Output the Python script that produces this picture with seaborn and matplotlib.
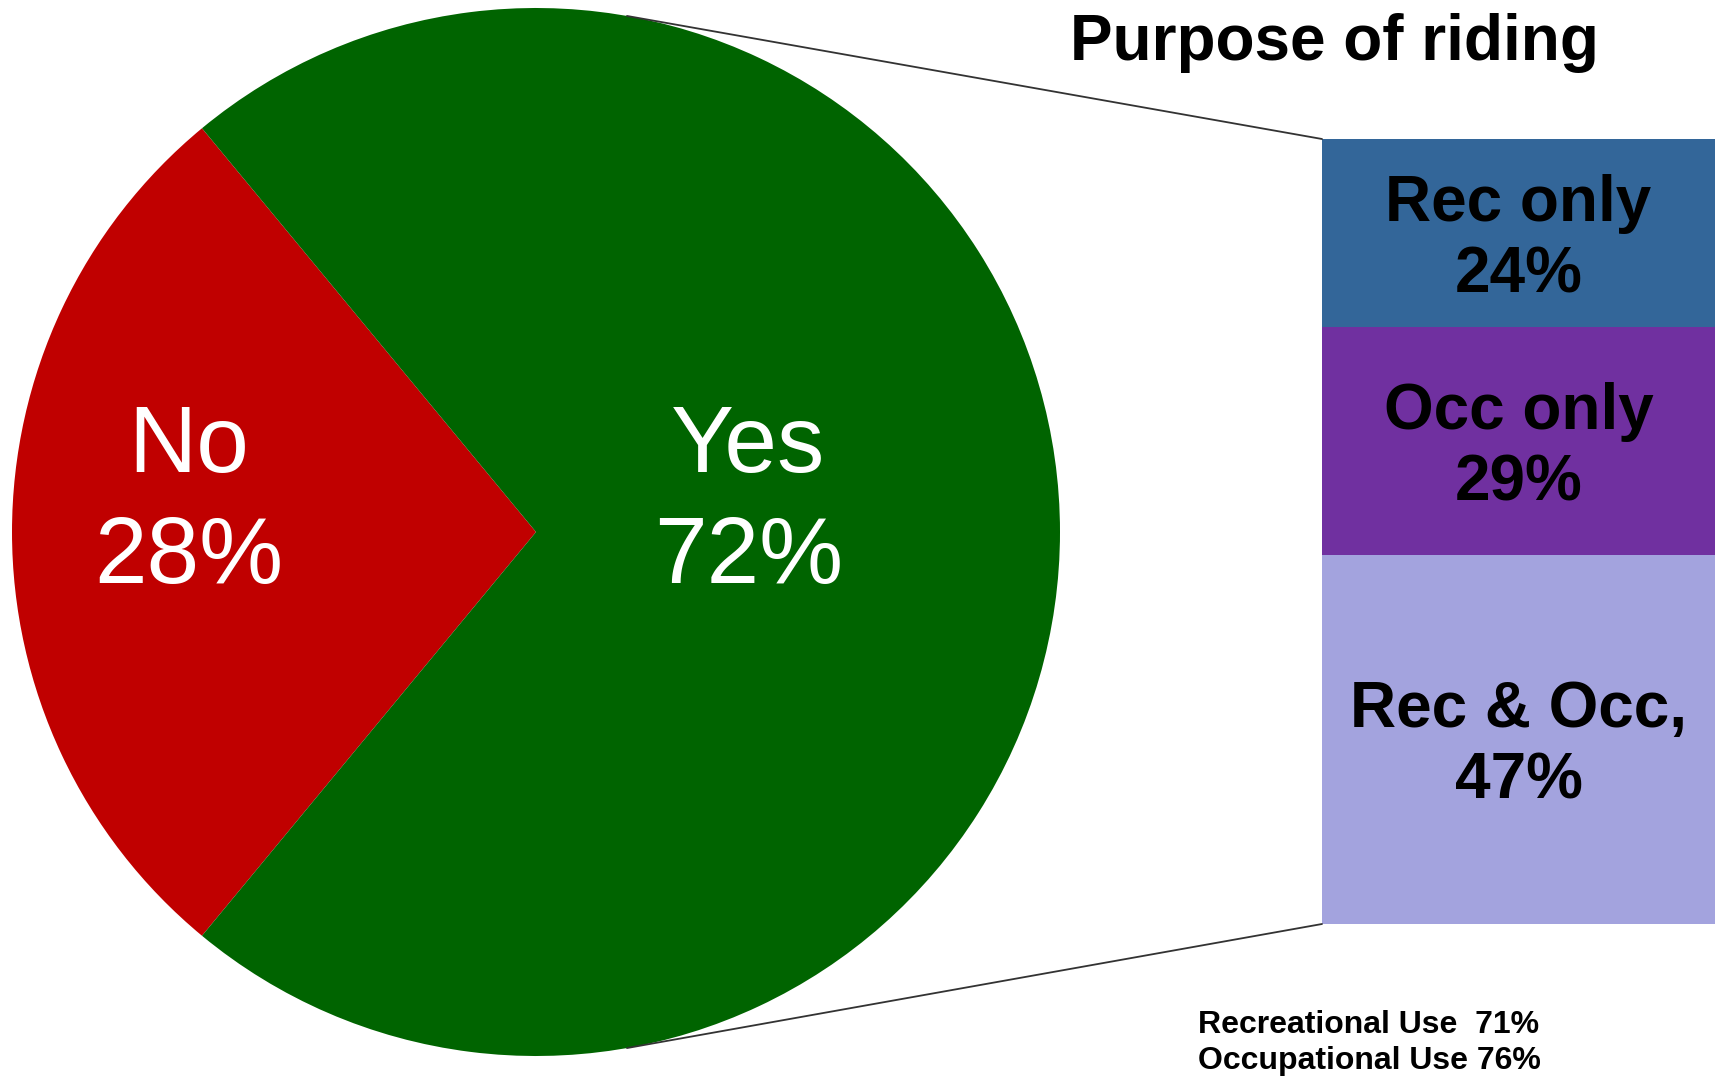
import matplotlib
matplotlib.use("Agg")
import matplotlib.pyplot as plt
from matplotlib.patches import ConnectionPatch
import numpy as np
import seaborn as sns

sns.set_theme(style="white")
plt.rcParams["font.family"] = ["Liberation Sans", "DejaVu Sans"]

# Share of riders (pie)
ride_labels = ["No", "Yes"]
ride_shares = [28, 72]
ride_colors = ["#C00000", "#006400"]

# Purpose of riding among "Yes" (stacked bar, bottom to top)
purpose_labels = ["Rec & Occ,", "Occ only", "Rec only"]
purpose_shares = [47, 29, 24]
purpose_colors = ["#A3A3DE", "#7030A0", "#336699"]

summary_lines = ["Recreational Use  71%", "Occupational Use 76%"]

W, H = 1719, 1077
fig = plt.figure(figsize=(W / 100, H / 100), dpi=100)
fig.patch.set_facecolor("white")


def box(x0, y0, x1, y1):
    """Axes rectangle from pixel edges measured from the top-left corner."""
    return [x0 / W, 1 - y1 / H, (x1 - x0) / W, (y1 - y0) / H]


# ---- pie ----
ax_pie = fig.add_axes(box(12, 8, 1060, 1056))
start = 180 - ride_shares[0] * 3.6 / 2
ax_pie.pie(ride_shares, colors=ride_colors, startangle=start,
           counterclock=True, wedgeprops=dict(linewidth=0))
ax_pie.set_xlim(-1, 1)
ax_pie.set_ylim(-1, 1)
ax_pie.set_aspect("equal")
ax_pie.axis("off")

pie_label_pos = {"No": (-0.662, 0.055), "Yes": (0.405, 0.055)}
for lab, share in zip(ride_labels, ride_shares):
    x, y = pie_label_pos[lab]
    ax_pie.text(x, y, f"{lab}\n{share}%", ha="center", va="center",
                color="white", fontsize=68, linespacing=1.32)

# ---- stacked bar (cumulative bars drawn tallest first) ----
ax_bar = fig.add_axes(box(1322, 139, 1715, 924))
cum = np.cumsum(purpose_shares)
for i in reversed(range(len(purpose_shares))):
    sns.barplot(x=["Purpose"], y=[cum[i]], color=purpose_colors[i],
                width=1, saturation=1, linewidth=0, ax=ax_bar)
for lab, share, top in zip(purpose_labels, purpose_shares, cum):
    ax_bar.text(0, top - share / 2 - 0.8, f"{lab}\n{share}%", ha="center",
                va="center", fontsize=46, fontweight="bold", color="black",
                linespacing=1.25)
ax_bar.set_xlim(-0.5, 0.5)
ax_bar.set_ylim(0, 100)
ax_bar.axis("off")

# ---- connector lines from pie to bar ----
theta = np.deg2rad(80)
for sign, ybar in ((1, 100), (-1, 0)):
    con = ConnectionPatch(xyA=(np.cos(theta), sign * np.sin(theta)),
                          coordsA=ax_pie.transData,
                          xyB=(-0.5, ybar), coordsB=ax_bar.transData,
                          color="#333333", lw=1.3)
    fig.add_artist(con)

# ---- titles and notes ----
fig.text(1334 / W, 1 - 60 / H, "Purpose of riding", ha="center",
         va="baseline", fontsize=46, fontweight="bold", color="black")
for line, yb in zip(summary_lines, (1033, 1069)):
    fig.text(1198 / W, 1 - yb / H, line, ha="left", va="baseline",
             fontsize=23, fontweight="bold", color="black")

fig.savefig("out.png", dpi=100, facecolor="white")
